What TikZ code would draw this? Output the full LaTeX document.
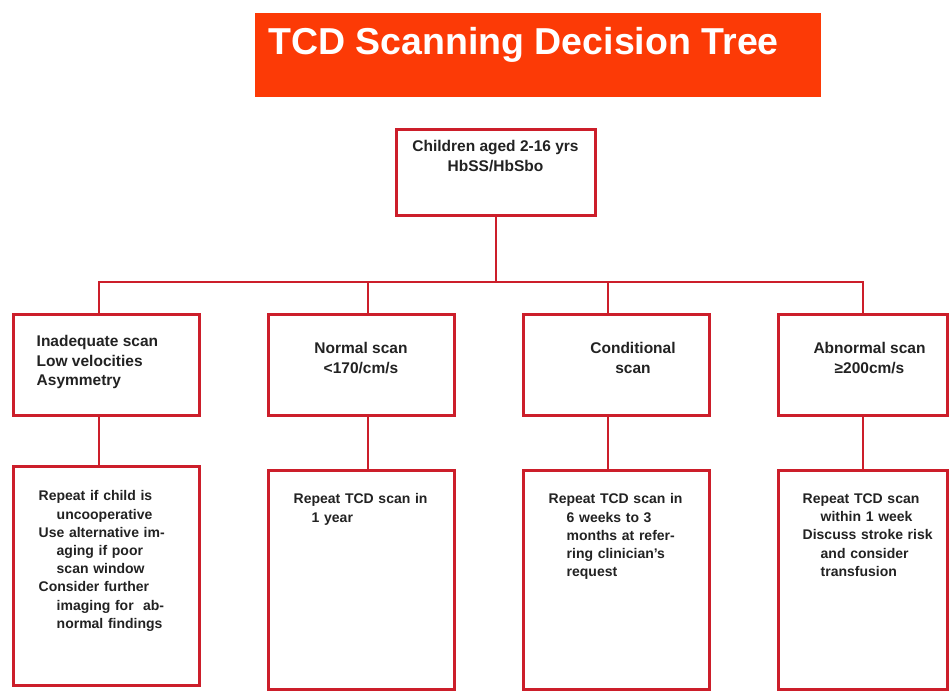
\documentclass[tikz,border=0pt]{standalone}
\usepackage{fontspec}
\setmainfont{Liberation Sans}
\usepackage{xcolor}
\setlength{\parindent}{0pt}

\definecolor{titlered}{RGB}{252,58,6}
\definecolor{boxred}{RGB}{204,30,42}
\definecolor{txtgray}{RGB}{34,34,34}
\newcommand{\ind}{\hspace*{18pt}}

\begin{document}
\begin{tikzpicture}[x=1pt,y=-1pt,
  box/.style={draw=boxred,line width=3pt,inner sep=0pt},
  link/.style={draw=boxred,line width=2pt},
  headtxt/.style={font=\fontsize{15.5}{19.5}\selectfont\bfseries,text=txtgray,inner sep=0pt},
  bodytxt/.style={font=\fontsize{14}{18.2}\selectfont\bfseries,text=txtgray,inner sep=0pt,
    text width=150pt,align=left,anchor=north west}]
\useasboundingbox (0,0) rectangle (951,692);
% title
\node[fill=titlered,inner sep=0pt,minimum width=566pt,minimum height=84pt] (title) at (538,55) {};
\node[anchor=base west,inner sep=0pt,text=white,font=\fontsize{37.5}{40}\selectfont\bfseries] at (268,55) {TCD Scanning Decision Tree};
% root
\node[box,minimum width=199pt,minimum height=86pt,
  label={[headtxt,align=center,anchor=north,yshift=-12pt]north:Children aged 2-16 yrs\\HbSS/HbSbo}] (root) at (495.5,173) {};
% first row
\node[box,minimum width=186pt,minimum height=101pt,
  label={[headtxt,align=left,anchor=north west,xshift=25pt,yshift=-22pt]north west:Inadequate scan\\Low velocities\\Asymmetry}] (topA) at (106,365.5) {};
\node[box,minimum width=186pt,minimum height=101pt,
  label={[headtxt,align=center,anchor=north,yshift=-29pt]north:Normal scan\\<170/cm/s}] (topB) at (361,365.5) {};
\node[box,minimum width=186pt,minimum height=101pt,
  label={[headtxt,align=center,anchor=north,xshift=17pt,yshift=-29pt]north:Conditional\\scan}] (topC) at (616,365.5) {};
\node[box,minimum width=169pt,minimum height=101pt,
  label={[headtxt,align=center,anchor=north,xshift=7pt,yshift=-29pt]north:Abnormal scan\\≥200cm/s}] (topD) at (862.5,365.5) {};
% second row
\node[box,minimum width=186pt,minimum height=218pt] (botA) at (106,576) {};
\node[box,minimum width=186pt,minimum height=218pt] (botB) at (361,580) {};
\node[box,minimum width=186pt,minimum height=218pt] (botC) at (616,580) {};
\node[box,minimum width=169pt,minimum height=218pt] (botD) at (862.5,580) {};
\node[bodytxt] at ([xshift=27pt,yshift=-25pt]botA.north west) {Repeat if child is\\\ind uncooperative\\
  Use alternative im-\\\ind aging if poor\\\ind scan window\\
  Consider further\\\ind imaging for~ ab-\\\ind normal findings};
\node[bodytxt] at ([xshift=27pt,yshift=-24pt]botB.north west) {Repeat TCD scan in\\\ind 1 year};
\node[bodytxt] at ([xshift=27pt,yshift=-24pt]botC.north west) {Repeat TCD scan in\\\ind 6 weeks to 3\\\ind months at refer-\\\ind ring clinician's\\\ind request};
\node[bodytxt] at ([xshift=26pt,yshift=-24pt]botD.north west) {Repeat TCD scan\\\ind within 1 week\\
  Discuss stroke risk\\\ind and consider\\\ind transfusion};
% connectors
\coordinate (bus) at (495,282);
\draw[link] (root.south) -- (root.south |- bus);
\foreach \n/\dx in {A/-7,B/7,C/-8,D/0.5}{
  \draw[link] ([xshift=\dx pt]top\n.north) |- (bus);
  \draw[link] ([xshift=\dx pt]top\n.south) -- ([xshift=\dx pt]bot\n.north);
}
\end{tikzpicture}
\end{document}
